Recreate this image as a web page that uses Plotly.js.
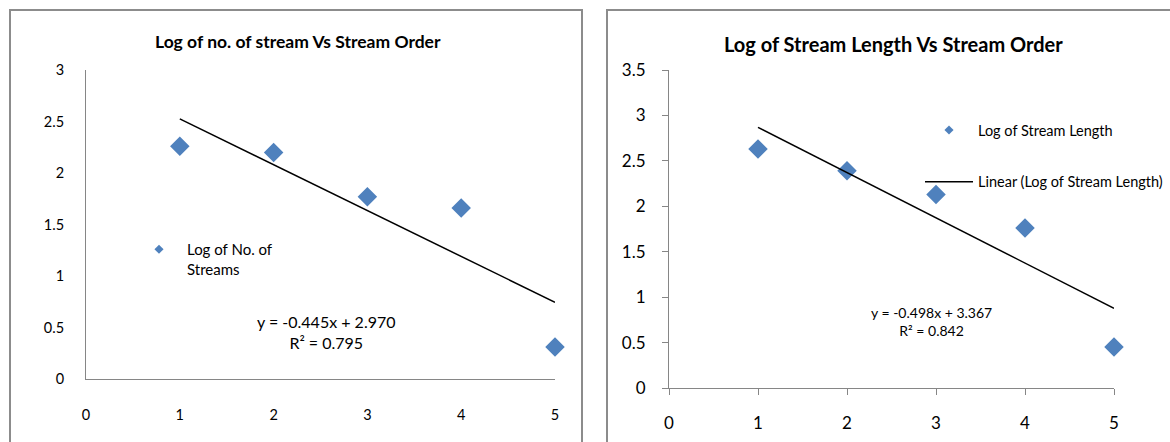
<!DOCTYPE html>
<html>
<head>
<meta charset="utf-8">
<script src="https://cdn.plot.ly/plotly-3.0.1.min.js"></script>
<style>html,body{margin:0;padding:0;background:#fff;}#chart{width:1170px;height:442px;}</style>
</head>
<body>
<div id="chart"></div>
<script>
// ---- data ----
const streamOrder = [1, 2, 3, 4, 5];
const logNoOfStreams = [2.26, 2.20, 1.77, 1.66, 0.31];
const logStreamLength = [2.63, 2.39, 2.13, 1.76, 0.45];
const fitNumbers = [-0.445, 2.970];   // slope, intercept (left chart)
const fitLength = [-0.498, 3.367];    // slope, intercept (right chart)
const titles = ["Log of no. of stream Vs Stream Order", "Log of Stream Length Vs Stream Order"];
const seriesNames = ["Log of No. of<br>Streams", "Log of Stream Length", "Linear (Log of Stream Length)"];
const equations = ["y = -0.445x + 2.970<br>R² = 0.795", "y = -0.498x + 3.367<br>R² = 0.842"];

const W = 1170, H = 442;
const px = v => v / W;
const py = v => 1 - v / H;
const blue = '#4F81BD';
const axisGrey = '#868686';
const font = 'Lato, "Open Sans", sans-serif';

const xEnds = [Math.min(...streamOrder), Math.max(...streamOrder)];
const lineOf = c => xEnds.map(x => c[0] * x + c[1]);

const traces = [
  {x: streamOrder, y: logNoOfStreams, xaxis: 'x', yaxis: 'y', type: 'scatter', mode: 'markers',
   marker: {symbol: 'diamond', size: 15, color: blue}, cliponaxis: false, showlegend: false},
  {x: xEnds, y: lineOf(fitNumbers), xaxis: 'x', yaxis: 'y', type: 'scatter', mode: 'lines',
   line: {color: '#000', width: 1.5}, showlegend: false, cliponaxis: false},
  {x: [null], y: [null], xaxis: 'x', yaxis: 'y', type: 'scatter', mode: 'markers', name: seriesNames[0],
   marker: {symbol: 'diamond', size: 7, color: blue}, showlegend: true, legend: 'legend'},

  {x: streamOrder, y: logStreamLength, xaxis: 'x2', yaxis: 'y2', type: 'scatter', mode: 'markers',
   marker: {symbol: 'diamond', size: 15, color: blue}, cliponaxis: false, showlegend: false},
  {x: xEnds, y: lineOf(fitLength), xaxis: 'x2', yaxis: 'y2', type: 'scatter', mode: 'lines',
   line: {color: '#000', width: 1.5}, showlegend: false, cliponaxis: false},
  {x: [null], y: [null], xaxis: 'x2', yaxis: 'y2', type: 'scatter', mode: 'markers', name: seriesNames[1],
   marker: {symbol: 'diamond', size: 7, color: blue}, showlegend: true, legend: 'legend2', legendgroup: 'a'},
  {x: [null], y: [null], xaxis: 'x2', yaxis: 'y2', type: 'scatter', mode: 'lines', name: seriesNames[2],
   line: {color: '#000', width: 1.5}, showlegend: true, legend: 'legend2', legendgroup: 'b'}
];

const baseAxis = {showgrid: false, zeroline: false, showline: true, linecolor: axisGrey, linewidth: 1,
  fixedrange: true, tickfont: {family: font, size: 14.5, color: '#000'}};

const layout = {
  width: W, height: H,
  margin: {l: 0, r: 0, t: 0, b: 0},
  paper_bgcolor: '#fff', plot_bgcolor: 'rgba(0,0,0,0)',
  font: {family: font, color: '#000'},
  showlegend: true,
  xaxis: Object.assign({}, baseAxis, {domain: [px(86), px(555)], range: [0, 5], dtick: 1, tick0: 0,
    ticks: '', anchor: 'y', ticklabelstandoff: 23}),
  yaxis: Object.assign({}, baseAxis, {domain: [py(379), py(70)], range: [0, 3], dtick: 0.5, tick0: 0,
    ticks: '', anchor: 'x', ticklabelstandoff: 18}),
  xaxis2: Object.assign({}, baseAxis, {domain: [px(669), px(1114)], range: [0, 5], dtick: 1, tick0: 0,
    ticks: 'outside', ticklen: 6, tickcolor: axisGrey, anchor: 'y2', ticklabelstandoff: 14,
    tickfont: {family: font, size: 17, color: '#000'}}),
  yaxis2: Object.assign({}, baseAxis, {domain: [py(388), py(70)], range: [0, 3.5], dtick: 0.5, tick0: 0,
    ticks: 'outside', ticklen: 6, tickcolor: axisGrey, anchor: 'x2', ticklabelstandoff: 13,
    tickfont: {family: font, size: 17, color: '#000'}}),
  legend: {x: px(131), y: py(233), xanchor: 'left', yanchor: 'top', bgcolor: 'rgba(0,0,0,0)',
    font: {family: font, size: 15, color: '#000'}, itemwidth: 46, valign: 'top'},
  legend2: {x: px(920), y: py(114), xanchor: 'left', yanchor: 'top', bgcolor: 'rgba(0,0,0,0)',
    font: {family: font, size: 14.5, color: '#000'}, traceorder: 'grouped', tracegroupgap: 30, itemwidth: 48},
  annotations: [
    {text: '<b>' + titles[0] + '</b>', xref: 'paper', yref: 'paper', x: px(298), y: py(41),
     xanchor: 'center', yanchor: 'middle', showarrow: false, font: {family: font, size: 17.5, color: '#000'}},
    {text: '<b>' + titles[1] + '</b>', xref: 'paper', yref: 'paper', x: px(893), y: py(44),
     xanchor: 'center', yanchor: 'middle', showarrow: false, font: {family: font, size: 20, color: '#000'}},
    {text: equations[0], xref: 'paper', yref: 'paper', x: px(326), y: py(332),
     xanchor: 'center', yanchor: 'middle', showarrow: false, align: 'center',
     font: {family: font, size: 16, color: '#000'}},
    {text: equations[1], xref: 'paper', yref: 'paper', x: px(932), y: py(321),
     xanchor: 'center', yanchor: 'middle', showarrow: false, align: 'center',
     font: {family: font, size: 14, color: '#000'}}
  ],
  shapes: [
    {type: 'rect', xref: 'paper', yref: 'paper', x0: px(10), x1: px(582), y0: py(460), y1: py(10),
     line: {color: '#8c8c8c', width: 2}, fillcolor: 'rgba(0,0,0,0)', layer: 'below'},
    {type: 'rect', xref: 'paper', yref: 'paper', x0: px(607), x1: px(1190), y0: py(460), y1: py(10),
     line: {color: '#8c8c8c', width: 2}, fillcolor: 'rgba(0,0,0,0)', layer: 'below'}
  ]
};

Plotly.newPlot('chart', traces, layout, {displayModeBar: false, staticPlot: true});
</script>
</body>
</html>
